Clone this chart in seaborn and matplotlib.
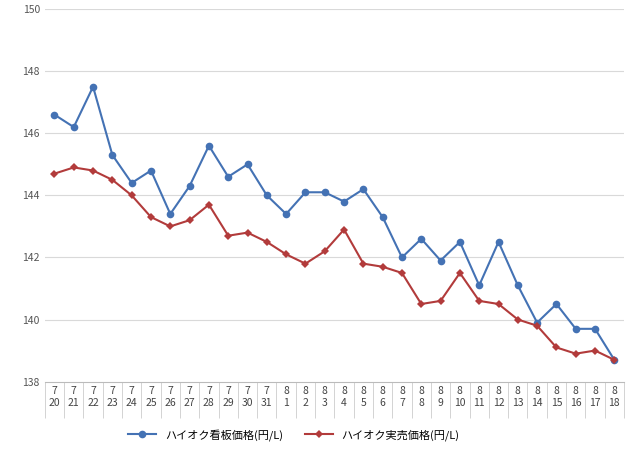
import pandas as pd
import numpy as np
import matplotlib.pyplot as plt
import seaborn as sns

months = ["7"] * 12 + ["8"] * 18
days = ["20", "21", "22", "23", "24", "25", "26", "27", "28", "29", "30", "31"] + [str(d) for d in range(1, 19)]
kanban = [146.6, 146.2, 147.5, 145.3, 144.4, 144.8, 143.4, 144.3, 145.6, 144.6, 145.0, 144.0,
          143.4, 144.1, 144.1, 143.8, 144.2, 143.3, 142.0, 142.6, 141.9, 142.5, 141.1, 142.5,
          141.1, 139.9, 140.5, 139.7, 139.7, 138.7]
jitsubai = [144.7, 144.9, 144.8, 144.5, 144.0, 143.3, 143.0, 143.2, 143.7, 142.7, 142.8, 142.5,
            142.1, 141.8, 142.2, 142.9, 141.8, 141.7, 141.5, 140.5, 140.6, 141.5, 140.6, 140.5,
            140.0, 139.8, 139.1, 138.9, 139.0, 138.7]
name1 = "ハイオク看板価格(円/L)"
name2 = "ハイオク実売価格(円/L)"

plt.rcParams["font.family"] = "Noto Sans CJK JP"
x = np.arange(len(days))
df = pd.DataFrame({"x": np.concatenate([x, x]),
                   "price": kanban + jitsubai,
                   "series": [name1] * len(x) + [name2] * len(x)})

fig = plt.figure(figsize=(6.4, 4.57), dpi=100)
ax = fig.add_axes([0.07, 0.165, 0.905, 0.815])
for y in range(140, 151, 2):
    ax.axhline(y, color="#d9d9d9", lw=0.8, zorder=0)
sns.lineplot(data=df, x="x", y="price", hue="series", style="series",
             palette=["#4472b4", "#b23b3b"], markers=["o", "D"], dashes=False,
             markersize=5.5, markeredgewidth=0, lw=1.5, ax=ax)
for line in ax.lines:
    if line.get_marker() == "D":
        line.set_markersize(4.2)
ax.set_ylim(138, 150)
ax.set_xlim(-0.5, len(x) - 0.5)
ax.set_yticks(range(138, 151, 2))
ax.tick_params(axis="y", length=0, labelsize=7.5, colors="#555555")
ax.set_xticks(x)
ax.set_xticklabels([f"{m}\n{d}" for m, d in zip(months, days)], fontsize=7.5, color="#444444")
ax.tick_params(axis="x", length=0)
ax.set_xticks(np.arange(-0.5, len(x), 1), minor=True)
ax.tick_params(axis="x", which="minor", length=26, color="#cccccc")
for s in ["top", "right", "left"]:
    ax.spines[s].set_visible(False)
ax.spines["bottom"].set_color("#bbbbbb")
ax.set_xlabel("")
ax.set_ylabel("")
leg = ax.legend(loc="upper center", bbox_to_anchor=(0.43, -0.1), ncol=2, frameon=False,
                fontsize=8, handlelength=2.5, columnspacing=2)
fig.savefig("out.png")
